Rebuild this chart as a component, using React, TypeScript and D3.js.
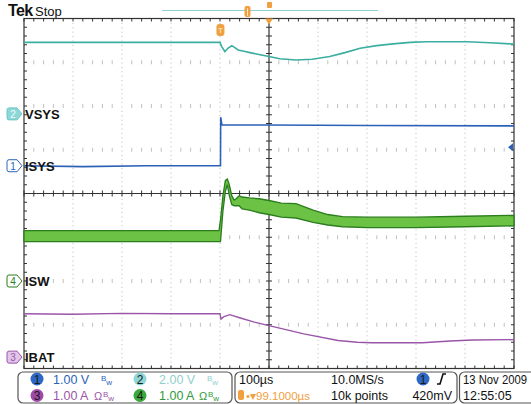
import React from 'react';
import * as d3 from 'd3';

// ---- data (time in µs across the 10-division record, 100 µs/div) ----
const ch1Time = [0, 120, 250, 401, 401.4, 404, 500, 700, 1000];
const ch1Value = [0.0, -0.02, 0.0, 0.0, 1.11, 0.93, 0.93, 0.92, 0.91];

const ch2Time = [0, 400, 403, 410, 416, 424, 431, 437, 449, 461, 482, 500, 522, 555, 588, 624, 655, 686, 720, 753, 788, 822, 904, 951, 1000];
const ch2Value = [3.27, 3.27, 3.10, 2.84, 3.00, 3.12, 3.02, 2.92, 2.86, 2.80, 2.70, 2.62, 2.52, 2.46, 2.50, 2.62, 2.80, 3.00, 3.12, 3.20, 3.27, 3.30, 3.30, 3.25, 3.19];

const ch3Time = [0, 100, 200, 300, 400, 402, 407, 420, 440, 470, 500, 571, 641, 680, 710, 813, 870, 916, 1000];
const ch3Value = [0.99, 0.98, 1.0, 0.99, 0.99, 0.87, 0.92, 0.97, 0.9, 0.8, 0.72, 0.53, 0.38, 0.34, 0.33, 0.33, 0.37, 0.39, 0.4];

const ch4Time = [0, 398, 401, 406, 411, 415, 419, 424, 429, 433, 439, 445, 460, 480, 500, 525, 555, 590, 620, 650, 700, 800, 900, 1000];
const ch4Upper = [1.15, 1.15, 1.4, 1.95, 2.3, 2.33, 2.2, 1.95, 1.85, 1.88, 1.95, 1.92, 1.9, 1.88, 1.84, 1.78, 1.77, 1.62, 1.52, 1.47, 1.46, 1.46, 1.48, 1.5];
const ch4Lower = [0.9, 0.9, 0.9, 1.6, 2.05, 2.2, 1.95, 1.75, 1.72, 1.72, 1.72, 1.65, 1.62, 1.56, 1.52, 1.46, 1.44, 1.34, 1.28, 1.24, 1.22, 1.22, 1.24, 1.26];

const channelNames = ['ISYS', 'VSYS', 'IBAT', 'ISW'];
const channelScales = [1, 2, 1, 1]; // units per division
const channelOffsets = [0.635, 1.82, -3.74, -2.0]; // ground marker, divisions from centre
const scaleLabels = ['1.00 V', '2.00 V', '1.00 A', '1.00 A'];

const timebaseLabel = '100µs';
const sampleRate = '10.0MS/s';
const recordLength = '10k points';
const triggerLevelV = 0.42;
const triggerLevel = '420mV';
const triggerTime = 400.9;
const triggerDelay = '99.1000µs';
const dateLabel = '13 Nov 2009';
const timeLabel = '12:55:05';

const W = 531, H = 404;
const L = 24, R = 514, T = 18.5, B = 368.5;
const font = 'Liberation Sans, Arial, sans-serif';

const C1 = '#2b62b8', C2 = '#3aaea0', C3 = '#9a55a8', C4 = '#2b7d1e';
const ORANGE = '#f0a040';

export default function App() {
  const x = d3.scaleLinear().domain([0, 1000]).range([L, R]);
  const yDiv = d3.scaleLinear().domain([-4, 4]).range([B, T]);
  const yCh = (ch: number) => (v: number) => yDiv(channelOffsets[ch] + v / channelScales[ch]);

  const mkLine = (ch: number, ts: number[], vs: number[]) =>
    d3.line<number>().x((_, i) => x(ts[i])).y((d) => yCh(ch)(d))(vs) || '';

  const area4 = d3
    .area<number>()
    .x((_, i) => x(ch4Time[i]))
    .y0((_, i) => yCh(3)(ch4Lower[i]))
    .y1((_, i) => yCh(3)(ch4Upper[i]))(ch4Time) || '';

  const xMajor = d3.range(0, 11).map((i) => x(i * 100));
  const yMajor = d3.range(-4, 5).map((d) => yDiv(d));
  const xMinor = d3.range(0, 51).map((i) => x(i * 20));
  const yMinor = d3.range(0, 41).map((i) => yDiv(-4 + i * 0.2));
  const cx = x(500), cy = yDiv(0);

  const grid: React.ReactNode[] = [];
  xMajor.slice(1, -1).forEach((gx, i) => {
    if (i === 4) return;
    grid.push(<line key={'v' + i} x1={gx} x2={gx} y1={T} y2={B} stroke="#b8b8b8" strokeWidth={1} strokeDasharray="1,3.4" />);
  });
  yMajor.slice(1, -1).forEach((gy, j) => {
    if (j === 3) return;
    xMinor.forEach((mx, i) => {
      if (i % 5 === 0) return;
      grid.push(<line key={'h' + j + '_' + i} x1={mx} x2={mx} y1={gy - 2} y2={gy + 2} stroke="#c0c0c0" strokeWidth={1} />);
    });
  });
  const ticks: React.ReactNode[] = [];
  xMinor.forEach((mx, i) => {
    ticks.push(<line key={'tc' + i} x1={mx} x2={mx} y1={cy - 3} y2={cy + 3} stroke="#333" />);
    ticks.push(<line key={'tt' + i} x1={mx} x2={mx} y1={T} y2={T + 3} stroke="#333" />);
    ticks.push(<line key={'tb' + i} x1={mx} x2={mx} y1={B - 3} y2={B} stroke="#333" />);
  });
  yMinor.forEach((my, i) => {
    ticks.push(<line key={'yc' + i} x1={cx - 3} x2={cx + 3} y1={my} y2={my} stroke="#333" />);
    ticks.push(<line key={'yl' + i} x1={L} x2={L + 3} y1={my} y2={my} stroke="#333" />);
    ticks.push(<line key={'yr' + i} x1={R - 3} x2={R} y1={my} y2={my} stroke="#333" />);
  });

  const tag = (ch: number, fill: string, stroke: string, txt: string, key: string) => {
    const y = yDiv(channelOffsets[ch]);
    const x0 = 7;
    const p = `M${x0 + 2},${y - 6} L${x0 + 10},${y - 6} L${x0 + 15},${y} L${x0 + 10},${y + 6} L${x0 + 2},${y + 6} Q${x0},${y + 6} ${x0},${y + 4} L${x0},${y - 4} Q${x0},${y - 6} ${x0 + 2},${y - 6} Z`;
    return (
      <g key={key}>
        <path d={p} fill={fill} stroke={stroke} strokeWidth={1} />
        <text x={x0 + 6} y={y + 4} fontSize={10} fontFamily={font} textAnchor="middle" fill={txt}>{String(ch + 1)}</text>
        <text x={L + 1} y={y + 5} fontSize={13} fontWeight="bold" fontFamily={font} fill="#111">{channelNames[ch]}</text>
      </g>
    );
  };

  const chCircle = (cxp: number, cyp: number, fill: string, n: string) => (
    <g>
      <circle cx={cxp} cy={cyp} r={6.5} fill={fill} />
      <text x={cxp} y={cyp + 4.5} fontSize={12} fontFamily={font} textAnchor="middle" fill="#1a1a1a">{n}</text>
    </g>
  );

  const bw = (bx: number, by: number, col: string) => (
    <text x={bx} y={by} fontSize={8} fontFamily={font} fill={col}>
      <tspan dy={-3}>B</tspan><tspan dy={4}>w</tspan>
    </text>
  );

  const r1 = 384, r2 = 400;
  const trigY = yCh(0)(triggerLevelV);

  return (
    <svg width={W} height={H} style={{ position: 'absolute', left: 0, top: 0, background: '#fff' }}>
      <rect x={0} y={0} width={W} height={H} fill="#fff" />
      {/* header */}
      <text x={8} y={16} fontSize={16} fontWeight="bold" fontFamily={font} fill="#111" letterSpacing={-0.6}>Tek</text>
      <text x={35} y={16} fontSize={13} fontFamily={font} fill="#111">Stop</text>
      <line x1={162} x2={378} y1={10.5} y2={10.5} stroke="#8fd0d0" strokeWidth={1.2} />
      <rect x={244.5} y={6} width={6} height={11} rx={2} fill={ORANGE} />
      <line x1={247.5} x2={247.5} y1={8} y2={16} stroke="#fde3b8" strokeWidth={1} />
      <rect x={267} y={2} width={5} height={6} rx={1} fill={ORANGE} />

      {/* graticule */}
      {grid}
      <line x1={L} x2={R} y1={cy} y2={cy} stroke="#333" strokeWidth={1.2} />
      <line x1={cx} x2={cx} y1={T} y2={B} stroke="#333" strokeWidth={1.2} />
      {ticks}
      <rect x={L} y={T} width={R - L} height={B - T} fill="none" stroke="#333" strokeWidth={1.2} />

      {/* traces */}
      <path d={mkLine(1, ch2Time, ch2Value)} fill="none" stroke={C2} strokeWidth={1.6} />
      <path d={mkLine(0, ch1Time, ch1Value)} fill="none" stroke={C1} strokeWidth={1.6} />
      <path d={area4} fill="#6cc244" stroke={C4} strokeWidth={1.3} />
      <path d={mkLine(2, ch3Time, ch3Value)} fill="none" stroke={C3} strokeWidth={1.4} />

      {/* markers */}
      <path d={`M${cx - 4},${T} L${cx + 4},${T} L${cx},${T + 6} Z`} fill={ORANGE} />
      <rect x={x(triggerTime) - 4} y={24} width={8} height={12} rx={3} fill={ORANGE} />
      <text x={x(triggerTime)} y={33} fontSize={8} fontFamily={font} textAnchor="middle" fill="#fff2dc">T</text>
      <path d={`M${R - 6},${trigY} L${R - 1},${trigY - 4} L${R - 1},${trigY + 4} Z`} fill={C1} />
      {tag(1, '#8fd6d6', '#6cc6c6', '#e8ffff', 't2')}
      {tag(0, '#ffffff', C1, C1, 't1')}
      {tag(3, '#ffffff', C4, C4, 't4')}
      {tag(2, '#e2c6ea', C3, C3, 't3')}

      {/* bottom panel */}
      <rect x={18} y={372} width={214} height={31} rx={5} fill="#fff" stroke="#555" strokeWidth={1.2} />
      <rect x={235} y={372} width={222} height={31} rx={5} fill="#fff" stroke="#555" strokeWidth={1.2} />
      <rect x={459.5} y={372} width={90} height={31} rx={5} fill="#fff" stroke="#555" strokeWidth={1.2} />

      {chCircle(37, 379, '#2d68c4', '1')}
      <text x={53} y={r1} fontSize={12.5} fontFamily={font} fill={C1}>{scaleLabels[0]}</text>
      {bw(101, r1, C1)}
      {chCircle(140, 379, '#8fd6d6', '2')}
      <text x={159} y={r1} fontSize={12.5} fontFamily={font} fill="#8fd0cc">{scaleLabels[1]}</text>
      {bw(207, r1, '#8fd0cc')}
      {chCircle(37, 395.5, '#a04aa8', '3')}
      <text x={53} y={r2} fontSize={12.5} fontFamily={font} fill={C3}>{scaleLabels[2]}</text>
      <text x={94} y={r2} fontSize={11} fontFamily={font} fill={C3}>Ω</text>
      {bw(103, r2, C3)}
      {chCircle(140, 395.5, '#3aa83a', '4')}
      <text x={159} y={r2} fontSize={12.5} fontFamily={font} fill="#2e9a3a">{scaleLabels[3]}</text>
      <text x={199} y={r2} fontSize={11} fontFamily={font} fill="#2e9a3a">Ω</text>
      {bw(208, r2, '#2e9a3a')}

      <text x={239} y={r1} fontSize={12.5} fontFamily={font} fill="#111">{timebaseLabel}</text>
      <rect x={238} y={390} width={6} height={10} rx={2} fill={ORANGE} />
      <text x={246} y={r2} fontSize={11.5} fontFamily={font} fill={ORANGE}>•▾{triggerDelay}</text>
      <text x={331} y={r1} fontSize={12.5} fontFamily={font} fill="#111">{sampleRate}</text>
      <text x={331} y={r2} fontSize={12.5} fontFamily={font} fill="#111">{recordLength}</text>
      {chCircle(423, 379, '#2d68c4', '1')}
      <path d="M437,384 L440,384 L443,374 L446,374" fill="none" stroke="#111" strokeWidth={1.6} />
      <text x={452} y={r2} fontSize={12.5} fontFamily={font} textAnchor="end" fill="#111">{triggerLevel}</text>

      <text x={463} y={r1} fontSize={12} fontFamily={font} fill="#111" textLength={64} lengthAdjust="spacingAndGlyphs">{dateLabel}</text>
      <text x={463} y={r2} fontSize={12.5} fontFamily={font} fill="#111">{timeLabel}</text>
    </svg>
  );
}
